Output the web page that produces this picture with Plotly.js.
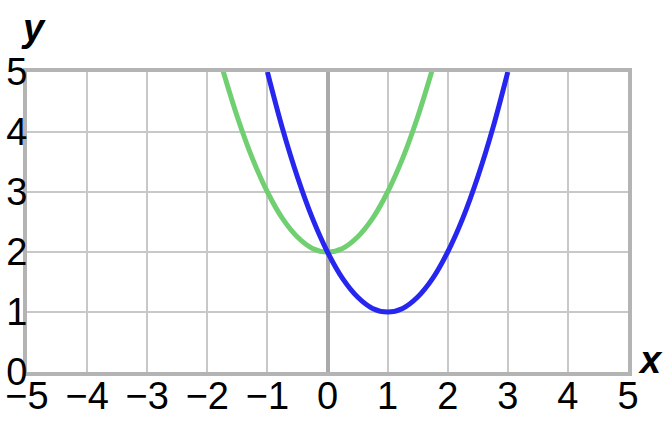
<!DOCTYPE html>
<html>
<head>
<meta charset="utf-8">
<script src="https://cdn.plot.ly/plotly-3.0.1.min.js"></script>
<style>html,body{margin:0;padding:0;background:#fff;}#chart{width:667px;height:421px;}</style>
</head>
<body>
<div id="chart"></div>
<script>
// Values
const greenX = [-1.75,-1.5,-1.25,-1,-0.75,-0.5,-0.25,0,0.25,0.5,0.75,1,1.25,1.5,1.75];
const greenY = [5.06,4.25,3.56,3,2.56,2.25,2.06,2,2.06,2.25,2.56,3,3.56,4.25,5.06];
const blueX = [-1,-0.75,-0.5,-0.25,0,0.25,0.5,0.75,1,1.25,1.5,1.75,2,2.25,2.5,2.75,3];
const blueY = [5,4.06,3.25,2.56,2,1.56,1.25,1.06,1,1.06,1.25,1.56,2,2.56,3.25,4.06,5];
const xTicks = [-5,-4,-3,-2,-1,0,1,2,3,4,5];
const yTicks = [0,1,2,3,4,5];

const traces = [
  {x: greenX, y: greenY, mode: 'lines', line: {color: '#70cf70', width: 5, shape: 'spline'}, hoverinfo: 'skip'},
  {x: blueX, y: blueY, mode: 'lines', line: {color: '#2626ef', width: 5, shape: 'spline'}, hoverinfo: 'skip'}
];

const tickFont = {family: 'Liberation Sans, Arial, sans-serif', size: 38, color: '#000'};
const axisCommon = {
  showgrid: true, gridcolor: '#c8c8c8', gridwidth: 2,
  showline: true, mirror: true, linecolor: '#b4b4b4', linewidth: 4,
  ticks: '', fixedrange: true, tickfont: tickFont
};

const layout = {
  width: 667, height: 421,
  margin: {l: 27, r: 39, t: 72, b: 49},
  paper_bgcolor: '#fff', plot_bgcolor: '#fff',
  showlegend: false,
  xaxis: Object.assign({}, axisCommon, {
    range: [-5, 5], tickmode: 'array', tickvals: xTicks,
    ticktext: xTicks.map(v => v < 0 ? '\u2212' + Math.abs(v) : String(v)),
    zeroline: true, zerolinecolor: '#aaaaaa', zerolinewidth: 4,
    ticklabelstandoff: -13
  }),
  yaxis: Object.assign({}, axisCommon, {
    range: [0, 5], tickmode: 'array', tickvals: yTicks,
    ticktext: yTicks.map(String),
    zeroline: false, ticklabelstandoff: -12
  }),
  annotations: [
    {text: '<b><i>y</i></b>', xref: 'paper', yref: 'paper', x: 0.01, y: 1.145,
     xanchor: 'center', yanchor: 'middle', showarrow: false,
     font: {family: 'Liberation Sans, Arial, sans-serif', size: 38, color: '#000'}},
    {text: '<b><i>x</i></b>', xref: 'paper', yref: 'paper', x: 1.037, y: 0.04,
     xanchor: 'center', yanchor: 'middle', showarrow: false,
     font: {family: 'Liberation Sans, Arial, sans-serif', size: 38, color: '#000'}}
  ]
};

Plotly.newPlot('chart', traces, layout, {staticPlot: true, displayModeBar: false});
</script>
</body>
</html>
